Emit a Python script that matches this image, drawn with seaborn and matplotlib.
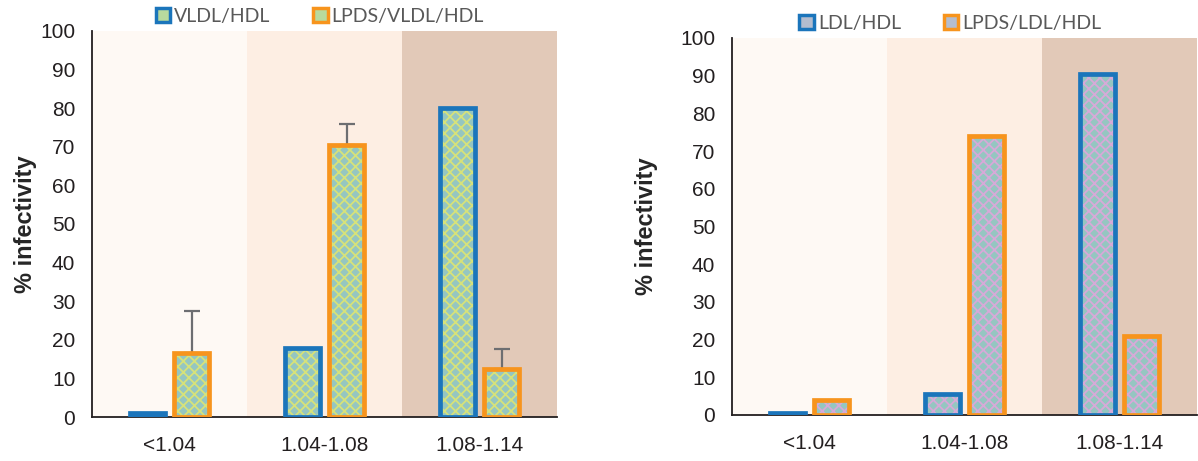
import pandas as pd
import seaborn as sns
import matplotlib.pyplot as plt
from matplotlib.patches import Patch

# densities (g/ml) on the x axis
densities = ["<1.04", "1.04-1.08", "1.08-1.14"]

# left panel: VLDL/HDL vs LPDS/VLDL/HDL
left_series = ["VLDL/HDL", "LPDS/VLDL/HDL"]
vldl_hdl = [1, 18, 80]
lpds_vldl_hdl = [16.5, 70.5, 12.5]
lpds_vldl_hdl_err = [11, 5.5, 5]

# right panel: LDL/HDL vs LPDS/LDL/HDL
right_series = ["LDL/HDL", "LPDS/LDL/HDL"]
ldl_hdl = [0.5, 5.5, 90.5]
lpds_ldl_hdl = [4, 74, 21]

yticks = list(range(0, 101, 10))

BLUE = "#1B75BB"
ORANGE = "#F7941D"
TEAL = "#8DCEC8"
LEFT_DOTS = "#D6E27A"
RIGHT_DOTS = "#D7A9D8"
BANDS = ["#FEF9F4", "#FDEEE3", "#E2C9B8"]


def make_df(names, a, b):
    return pd.DataFrame({
        "density": densities * 2,
        "infect": a + b,
        "series": [names[0]] * 3 + [names[1]] * 3,
    })


def draw_panel(ax, df, names, dots, legend_x, label_pad, err=None):
    for i, c in enumerate(BANDS):
        ax.axvspan(i - 0.5, i + 0.5, color=c, lw=0, zorder=0)

    # hatched fill first, then the coloured outline on top
    sns.barplot(data=df, x="density", y="infect", hue="series", hue_order=names,
                order=densities, palette=[TEAL, TEAL], width=0.57, gap=0.2,
                linewidth=0, legend=False, ax=ax, zorder=2)
    fill_bars = [p for c in ax.containers for p in c]
    for p in fill_bars:
        p.set_edgecolor(dots)
        p.set_hatch("xxx")
        p.set_linewidth(0)
    sns.barplot(data=df, x="density", y="infect", hue="series", hue_order=names,
                order=densities, palette=[BLUE, ORANGE], width=0.57, gap=0.2,
                fill=False, linewidth=3.4, legend=False, ax=ax, zorder=3)

    if err is not None:
        second = ax.containers[1]
        xs = [p.get_x() + p.get_width() / 2 for p in second]
        ys = [p.get_height() for p in second]
        ax.errorbar(xs, ys, yerr=[[0] * len(err), err], fmt="none", ecolor="#6D6E71",
                    elinewidth=1.6, capsize=6, capthick=1.6, zorder=1.5)

    ax.set_xlim(-0.5, 2.5)
    ax.set_ylim(0, 100)
    ax.set_yticks(yticks)
    ax.set_xticks([-0.5, 0.5, 1.5, 2.5], minor=True)
    ax.tick_params(axis="x", which="major", length=0, pad=14, labelsize=15, colors="#231F20")
    ax.tick_params(axis="x", which="minor", length=8, width=1.3, color="#231F20")
    ax.tick_params(axis="y", length=6, width=1.3, labelsize=15, colors="#231F20", pad=6)
    ax.set_xlabel("")
    ax.set_ylabel("% infectivity", fontsize=17, fontweight="bold", labelpad=label_pad)
    for s in ["top", "right"]:
        ax.spines[s].set_visible(False)
    for s in ["left", "bottom"]:
        ax.spines[s].set_linewidth(1.3)
        ax.spines[s].set_color("#231F20")
    ax.set_facecolor("white")

    mix = "#B8DA9E" if dots == LEFT_DOTS else "#B4BDCF"
    handles = [Patch(facecolor=mix, edgecolor=BLUE, lw=2.5),
               Patch(facecolor=mix, edgecolor=ORANGE, lw=2.5)]
    ax.legend(handles, names, loc="lower center", bbox_to_anchor=(legend_x, 0.99), ncol=2,
              frameon=False, handlelength=0.75, handleheight=0.75, handletextpad=0.2,
              columnspacing=2.2, borderaxespad=0.1,
              prop={"family": "Lato", "size": 14}, labelcolor="#595959")


def main():
    sns.set_style("white")
    plt.rcParams["font.family"] = ["Liberation Sans", "DejaVu Sans"]
    plt.rcParams["hatch.linewidth"] = 1.3

    fig = plt.figure(figsize=(11.98, 4.61), dpi=100)
    ax1 = fig.add_axes([0.0768, 0.0954, 0.3882, 0.8374])
    ax2 = fig.add_axes([0.611, 0.0998, 0.388, 0.8178])

    draw_panel(ax1, make_df(left_series, vldl_hdl, lpds_vldl_hdl), left_series, LEFT_DOTS,
               0.49, 2, lpds_vldl_hdl_err)
    draw_panel(ax2, make_df(right_series, ldl_hdl, lpds_ldl_hdl), right_series, RIGHT_DOTS,
               0.47, 16)

    fig.savefig("out.png", dpi=100)


if __name__ == "__main__":
    main()
